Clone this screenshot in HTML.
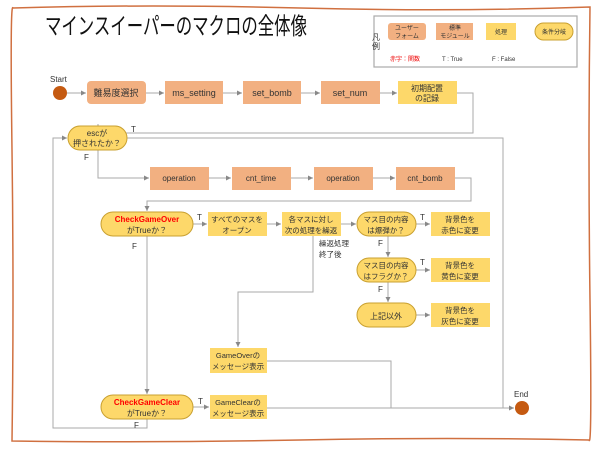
<!DOCTYPE html>
<html><head><meta charset="utf-8"><style>
body{margin:0;background:#fff}
svg text{font-family:"Liberation Sans","Noto Sans CJK JP",sans-serif;fill:#333}
</style></head><body>
<svg width="600" height="450" viewBox="0 0 600 450" xmlns="http://www.w3.org/2000/svg">
<defs><marker id="a" markerWidth="6" markerHeight="6" refX="5" refY="3" orient="auto"><path d="M0,0.5 L5,3 L0,5.5z" fill="#888"/></marker></defs>
<path d="M13,8 Q150,4 300,8 T590,7 Q588,150 590,300 T589,440 Q450,437 300,440 T12,441 Q14,300 12,150 T13,8Z" fill="none" stroke="#d07040" stroke-width="1.5"/>
<text x="0" y="0" font-size="18" fill="#111" style="fill:#111" textLength="262" lengthAdjust="spacingAndGlyphs" transform="translate(45,34) scale(1,1.3)">マインスイーパーのマクロの全体像</text>
<!-- legend -->
<rect x="374" y="16" width="203" height="51" fill="none" stroke="#aaa" stroke-width="1.2"/>
<text x="372" y="40" font-size="8">凡</text><text x="372" y="49" font-size="8">例</text>
<rect x="388" y="23" width="38" height="17" rx="3" fill="#f2b081"/>
<text x="407" y="30" font-size="6" text-anchor="middle">ユーザー</text><text x="407" y="38" font-size="6" text-anchor="middle">フォーム</text>
<rect x="436" y="23" width="37" height="17" fill="#f2b081"/>
<text x="455" y="30" font-size="6" text-anchor="middle">標準</text><text x="455" y="38" font-size="6" text-anchor="middle">モジュール</text>
<rect x="486" y="23" width="30" height="17" fill="#fdd86a"/>
<text x="501" y="34" font-size="6" text-anchor="middle">処理</text>
<rect x="535" y="23" width="38" height="17" rx="8.5" fill="#fdd86a" stroke="#c9a030"/>
<text x="554" y="34" font-size="6" text-anchor="middle">条件分岐</text>
<text x="390" y="61" font-size="6" fill="#e00" style="fill:#e00">赤字：関数</text>
<text x="442" y="61" font-size="6">T : True</text>
<text x="492" y="61" font-size="6">F : False</text>
<!-- lines -->
<g fill="none" stroke="#aaa" stroke-width="1">
<path d="M67,93 H86" marker-end="url(#a)"/>
<path d="M146,93 H164" marker-end="url(#a)"/>
<path d="M223,93 H242" marker-end="url(#a)"/>
<path d="M301,93 H320" marker-end="url(#a)"/>
<path d="M380,93 H397" marker-end="url(#a)"/>
<path d="M457,93 H473 V133 H98 V124" />
<path d="M98,133 V125" marker-end="url(#a)"/>
<path d="M127,138 H503 V408"/>
<path d="M98,150 V178 H149" marker-end="url(#a)"/>
<path d="M209,178 H231" marker-end="url(#a)"/>
<path d="M291,178 H313" marker-end="url(#a)"/>
<path d="M373,178 H395" marker-end="url(#a)"/>
<path d="M455,178 H471 V201 H147 V211" marker-end="url(#a)"/>
<path d="M193,224 H207" marker-end="url(#a)"/>
<path d="M267,224 H281" marker-end="url(#a)"/>
<path d="M341,224 H356" marker-end="url(#a)"/>
<path d="M416,224 H430" marker-end="url(#a)"/>
<path d="M388,236 V257" marker-end="url(#a)"/>
<path d="M416,270 H430" marker-end="url(#a)"/>
<path d="M388,282 V302" marker-end="url(#a)"/>
<path d="M416,315 H430" marker-end="url(#a)"/>
<path d="M313,236 V292 H238 V347" marker-end="url(#a)"/>
<path d="M147,236 V394" marker-end="url(#a)"/>
<path d="M193,407 H209" marker-end="url(#a)"/>
<path d="M267,361 H391 V408"/>
<path d="M267,408 H514" marker-end="url(#a)"/>
<path d="M147,418 V428 H53 V138 H67" marker-end="url(#a)"/>
</g>
<!-- start/end -->
<text x="50" y="82" font-size="8">Start</text>
<circle cx="60" cy="93" r="7" fill="#c55a11"/>
<text x="514" y="397" font-size="8">End</text>
<circle cx="522" cy="408" r="7" fill="#c55a11"/>
<!-- row1 -->
<g font-size="9" text-anchor="middle">
<rect x="87" y="81" width="59" height="23" rx="4" fill="#f2b081"/><text x="116" y="96">難易度選択</text>
<rect x="165" y="81" width="58" height="23" fill="#f2b081"/><text x="194" y="96">ms_setting</text>
<rect x="243" y="81" width="58" height="23" fill="#f2b081"/><text x="272" y="96">set_bomb</text>
<rect x="321" y="81" width="59" height="23" fill="#f2b081"/><text x="350" y="96">set_num</text>
<rect x="398" y="81" width="59" height="23" fill="#fdd86a"/><text x="427" y="91" font-size="8">初期配置</text><text x="427" y="101" font-size="8">の記録</text>
<rect x="68" y="126" width="59" height="24" rx="12" fill="#fdd86a" stroke="#c9a030"/><text x="97" y="136" font-size="8">escが</text><text x="97" y="146" font-size="8">押されたか？</text>
<rect x="150" y="167" width="59" height="23" fill="#f2b081"/><text x="179" y="181" font-size="8">operation</text>
<rect x="232" y="167" width="59" height="23" fill="#f2b081"/><text x="261" y="181" font-size="8">cnt_time</text>
<rect x="314" y="167" width="59" height="23" fill="#f2b081"/><text x="343" y="181" font-size="8">operation</text>
<rect x="396" y="167" width="59" height="23" fill="#f2b081"/><text x="425" y="181" font-size="8">cnt_bomb</text>
<rect x="101" y="212" width="92" height="24" rx="12" fill="#fdd86a" stroke="#c9a030"/>
<text x="147" y="222" font-size="8" font-weight="bold" style="fill:#f00">CheckGameOver</text><text x="147" y="233" font-size="8">がTrueか？</text>
<rect x="208" y="212" width="59" height="24" fill="#fdd86a"/><text x="237" y="222" font-size="7.5">すべてのマスを</text><text x="237" y="233" font-size="7.5">オープン</text>
<rect x="282" y="212" width="59" height="24" fill="#fdd86a"/><text x="311" y="222" font-size="7.5">各マスに対し</text><text x="311" y="233" font-size="7.5">次の処理を繰返</text>
<rect x="357" y="212" width="59" height="24" rx="12" fill="#fdd86a" stroke="#c9a030"/><text x="386" y="222" font-size="7.5">マス目の内容</text><text x="386" y="233" font-size="7.5">は爆弾か？</text>
<rect x="431" y="212" width="59" height="24" fill="#fdd86a"/><text x="460" y="222" font-size="7.5">背景色を</text><text x="460" y="233" font-size="7.5">赤色に変更</text>
<rect x="357" y="258" width="59" height="24" rx="12" fill="#fdd86a" stroke="#c9a030"/><text x="386" y="268" font-size="7.5">マス目の内容</text><text x="386" y="279" font-size="7.5">はフラグか？</text>
<rect x="431" y="258" width="59" height="24" fill="#fdd86a"/><text x="460" y="268" font-size="7.5">背景色を</text><text x="460" y="279" font-size="7.5">黄色に変更</text>
<rect x="357" y="303" width="59" height="24" rx="12" fill="#fdd86a" stroke="#c9a030"/><text x="386" y="319" font-size="8">上記以外</text>
<rect x="431" y="303" width="59" height="24" fill="#fdd86a"/><text x="460" y="313" font-size="7.5">背景色を</text><text x="460" y="324" font-size="7.5">灰色に変更</text>
<rect x="210" y="348" width="57" height="25" fill="#fdd86a"/><text x="238" y="358" font-size="7.5">GameOverの</text><text x="238" y="369" font-size="7.5">メッセージ表示</text>
<rect x="101" y="395" width="92" height="24" rx="12" fill="#fdd86a" stroke="#c9a030"/>
<text x="147" y="405" font-size="8" font-weight="bold" style="fill:#f00">CheckGameClear</text><text x="147" y="416" font-size="8">がTrueか？</text>
<rect x="210" y="395" width="57" height="24" fill="#fdd86a"/><text x="238" y="405" font-size="7.5">GameClearの</text><text x="238" y="416" font-size="7.5">メッセージ表示</text>
</g>
<g font-size="8">
<text x="131" y="132">T</text><text x="84" y="160">F</text>
<text x="197" y="220">T</text><text x="132" y="249">F</text>
<text x="420" y="220">T</text><text x="378" y="246">F</text>
<text x="420" y="265">T</text><text x="378" y="292">F</text>
<text x="319" y="246" font-size="7.5">繰返処理</text><text x="319" y="257" font-size="7.5">終了後</text>
<text x="198" y="404">T</text><text x="134" y="428">F</text>
</g>
</svg>
</body></html>
